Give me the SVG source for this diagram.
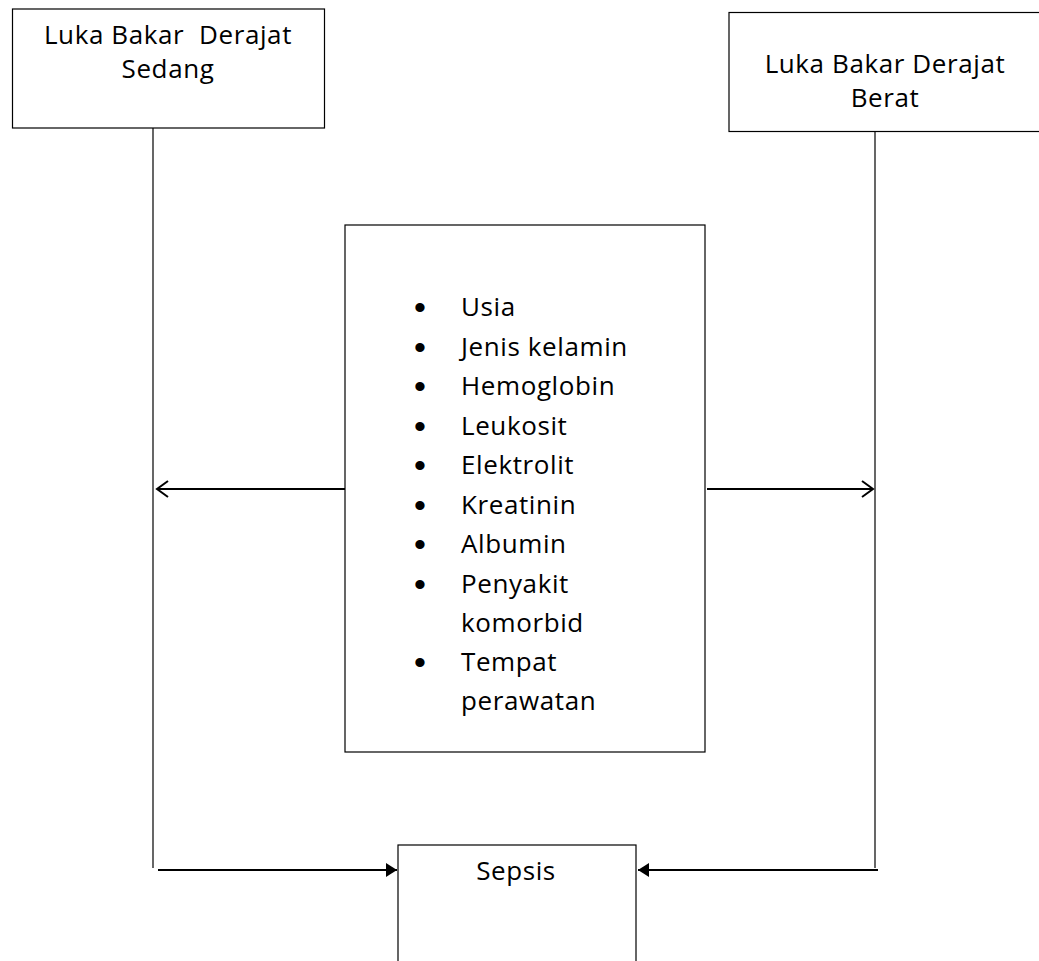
<svg xmlns="http://www.w3.org/2000/svg" width="1039" height="961" viewBox="0 0 1039 961">
<style>
.box{fill:#fff;stroke:#000;stroke-width:1.2}
.t{font-family:"Open Sans","Liberation Sans",sans-serif;font-size:26px;letter-spacing:0.6px;fill:#000}
.b{font-family:"Liberation Sans",sans-serif;font-size:34px;fill:#000}
.ln{stroke:#000;stroke-width:1.2;fill:none}
.ar{stroke:#000;stroke-width:2.2;fill:none}
</style>
<defs>
<marker id="open" markerWidth="14" markerHeight="18" refX="12" refY="9" orient="auto" markerUnits="userSpaceOnUse">
<path d="M1,1 L12,9 L1,17" fill="none" stroke="#000" stroke-width="2"/>
</marker>
<marker id="solid" markerWidth="12" markerHeight="14" refX="11" refY="7" orient="auto" markerUnits="userSpaceOnUse">
<path d="M0,0 L11,7 L0,14 Z" fill="#000"/>
</marker>
</defs>
<g id="connectors">
<line class="ln" x1="153" y1="128" x2="153" y2="868"/>
<line class="ln" x1="875" y1="131" x2="875" y2="868"/>
<line class="ar" x1="347" y1="489" x2="157" y2="489" marker-end="url(#open)"/>
<line class="ar" x1="707" y1="489" x2="873" y2="489" marker-end="url(#open)"/>
<line class="ar" x1="158" y1="870" x2="397" y2="870" marker-end="url(#solid)"/>
<line class="ar" x1="878" y1="870" x2="638" y2="870" marker-end="url(#solid)"/>
</g>
<g id="node-sedang">
<rect class="box" x="12.5" y="9" width="312" height="119"/>
<text class="t" x="168" y="44" text-anchor="middle" xml:space="preserve">Luka Bakar  Derajat</text>
<text class="t" x="168" y="78" text-anchor="middle">Sedang</text>
</g>
<g id="node-berat">
<rect class="box" x="729" y="12.5" width="320" height="119"/>
<text class="t" x="885" y="73" text-anchor="middle">Luka Bakar Derajat</text>
<text class="t" x="885" y="107" text-anchor="middle">Berat</text>
</g>
<g id="node-faktor">
<rect class="box" x="345" y="225" width="360" height="527"/>
<g>
<text class="b" x="414" y="319">•</text><text class="t" x="461" y="316">Usia</text>
<text class="b" x="414" y="359">•</text><text class="t" x="461" y="356">Jenis kelamin</text>
<text class="b" x="414" y="398">•</text><text class="t" x="461" y="395">Hemoglobin</text>
<text class="b" x="414" y="438">•</text><text class="t" x="461" y="435">Leukosit</text>
<text class="b" x="414" y="477">•</text><text class="t" x="461" y="474">Elektrolit</text>
<text class="b" x="414" y="517">•</text><text class="t" x="461" y="514">Kreatinin</text>
<text class="b" x="414" y="556">•</text><text class="t" x="461" y="553">Albumin</text>
<text class="b" x="414" y="596">•</text><text class="t" x="461" y="593">Penyakit</text>
<text class="t" x="461" y="632">komorbid</text>
<text class="b" x="414" y="674">•</text><text class="t" x="461" y="671">Tempat</text>
<text class="t" x="461" y="710">perawatan</text>
</g>
</g>
<g id="node-sepsis">
<rect class="box" x="398" y="845" width="238" height="130"/>
<text class="t" x="516" y="880" text-anchor="middle">Sepsis</text>
</g>
</svg>
